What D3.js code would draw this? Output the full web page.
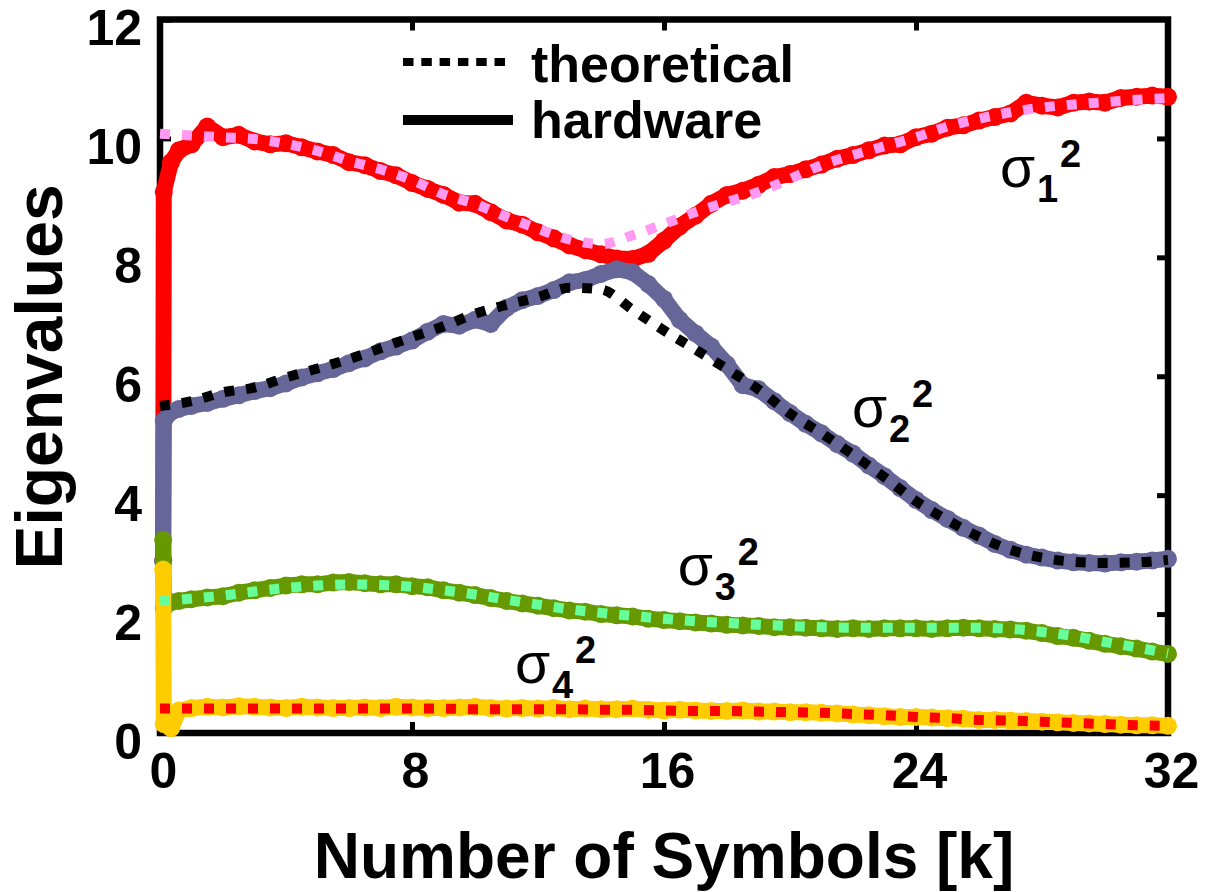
<!DOCTYPE html>
<html>
<head>
<meta charset="utf-8">
<script src="https://cdn.jsdelivr.net/npm/d3@7"></script>
<style>
body { margin: 0; background: #fff; }
svg text { font-family: "Liberation Sans", Arial, sans-serif; }
</style>
</head>
<body>
<svg id="chart" width="1205" height="892"></svg>
<script>

// theoretical curves, one value per 1k symbols
const kTheo = d3.range(0, 33, 1);
const theo1 = [10.08,10.05,10.02,9.99,9.91,9.79,9.62,9.48,9.3,9.06,8.9,8.68,8.48,8.3,8.22,8.37,8.56,8.76,8.93,9.1,9.32,9.55,9.72,9.87,10.02,10.2,10.33,10.44,10.52,10.57,10.61,10.65,10.68];
const theo2 = [5.5,5.58,5.73,5.81,5.98,6.13,6.29,6.47,6.66,6.84,7.05,7.2,7.33,7.49,7.46,7.12,6.77,6.45,6.12,5.78,5.37,5.04,4.68,4.3,3.9,3.58,3.3,3.08,2.95,2.88,2.86,2.87,2.91];
const theo3 = [2.22,2.26,2.31,2.38,2.44,2.48,2.5,2.49,2.46,2.4,2.33,2.24,2.16,2.08,2.02,1.97,1.92,1.88,1.85,1.82,1.8,1.78,1.77,1.77,1.77,1.77,1.77,1.75,1.7,1.63,1.53,1.44,1.34];
const theo4 = [0.41,0.41,0.41,0.41,0.41,0.41,0.41,0.41,0.41,0.41,0.4,0.4,0.4,0.4,0.39,0.39,0.38,0.37,0.37,0.36,0.35,0.34,0.32,0.3,0.27,0.25,0.22,0.21,0.19,0.17,0.15,0.13,0.12];

// hardware measurements: start-up transient, then every 0.5k symbols
const kHw = [0.1, 0.12, 0.35, 0.6, 1].concat(d3.range(1.5, 32.01, 0.5));
const hw1 = [2.9,9.1,9.6,9.8,9.9,
  10.2,10.02,10.06,9.95,9.9,9.92,9.85,9.78,9.72,9.6,
  9.55,9.45,9.38,9.25,9.15,9.05,8.92,8.9,8.76,8.62,
  8.55,8.42,8.32,8.2,8.12,8.05,7.98,7.97,8.06,8.28,
  8.52,8.7,8.9,9.05,9.12,9.22,9.35,9.4,9.48,9.56,
  9.66,9.72,9.8,9.88,9.9,10.02,10.08,10.18,10.22,10.3,
  10.36,10.42,10.6,10.55,10.52,10.6,10.62,10.6,10.68,10.7,
  10.72,10.7];
const hw2 = [2.9,5.25,5.4,5.45,5.5,
  5.55,5.62,5.68,5.75,5.8,5.88,5.98,6.05,6.12,6.22,
  6.3,6.42,6.5,6.6,6.75,6.88,6.85,6.95,6.88,7.15,
  7.28,7.35,7.45,7.58,7.62,7.72,7.8,7.75,7.55,7.3,
  6.95,6.72,6.5,6.2,5.85,5.78,5.58,5.38,5.2,5.04,
  4.86,4.7,4.5,4.32,4.12,3.92,3.75,3.6,3.45,3.32,
  3.18,3.08,3.0,2.95,2.9,2.87,2.86,2.85,2.87,2.88,
  2.9,2.93];
const hw3 = [3.25,2.1,2.2,2.22,2.25,
  2.28,2.3,2.36,2.4,2.44,2.48,2.5,2.5,2.53,2.54,
  2.52,2.5,2.5,2.47,2.45,2.4,2.36,2.32,2.27,2.22,
  2.18,2.14,2.1,2.06,2.04,2.0,1.98,1.96,1.92,1.9,
  1.88,1.86,1.84,1.82,1.81,1.8,1.78,1.78,1.77,1.76,
  1.75,1.76,1.75,1.76,1.76,1.76,1.75,1.76,1.77,1.76,
  1.75,1.74,1.72,1.68,1.63,1.6,1.55,1.5,1.46,1.42,
  1.37,1.33];
const hw4 = [2.75,0.15,0.08,0.38,0.42,
  0.44,0.43,0.45,0.44,0.43,0.42,0.44,0.43,0.42,0.42,
  0.43,0.42,0.44,0.43,0.42,0.42,0.43,0.44,0.42,0.41,
  0.42,0.41,0.42,0.4,0.41,0.4,0.4,0.41,0.39,0.38,
  0.39,0.38,0.37,0.37,0.38,0.36,0.36,0.35,0.35,0.34,
  0.33,0.31,0.3,0.28,0.27,0.27,0.26,0.25,0.24,0.22,
  0.22,0.21,0.2,0.19,0.18,0.17,0.16,0.15,0.14,0.13,
  0.13,0.12];

const xTicks = [0, 8, 16, 24, 32];
const yTicks = [0, 2, 4, 6, 8, 10, 12];
const sigmaIdx = ["1", "2", "3", "4"];
// where each sigma label sits, in data units (k, value)
const labelK = [26.67, 21.97, 16.44, 11.27];
const labelV = [9.18, 5.15, 2.49, 0.84];

const svg = d3.select("#chart");

const x = d3.scaleLinear().domain([0, 32]).range([160, 1168]);
const y = d3.scaleLinear().domain([0, 12]).range([733, 19.5]);

// axes, ticks pointing inward
const gx = svg.append("g")
    .attr("transform", "translate(0,733)")
    .call(d3.axisBottom(x).tickValues(xTicks).tickSize(-11).tickFormat(d3.format("d")));
gx.selectAll("text").attr("y", 55).attr("dy", 0)
    .attr("transform", "translate(3,0)");

const gy = svg.append("g")
    .attr("transform", "translate(160,0)")
    .call(d3.axisLeft(y).tickValues(yTicks).tickSize(-11));
gy.selectAll("text").attr("x", -18).attr("dy", "0.5em");

svg.append("g")
    .attr("transform", "translate(0,19.5)")
    .call(d3.axisTop(x).tickValues([8, 16, 24]).tickSize(-11).tickFormat(""));
svg.append("g")
    .attr("transform", "translate(1168,0)")
    .call(d3.axisRight(y).tickValues([2, 4, 6, 8, 10]).tickSize(-11).tickFormat(""));

svg.selectAll(".domain").remove();
svg.selectAll(".tick line").attr("stroke", "#000").attr("stroke-width", 5);
svg.selectAll(".tick text")
    .attr("font-size", 50)
    .attr("font-weight", "bold")
    .attr("fill", "#000")
    .style("font-family", "'Liberation Sans', Arial, sans-serif");

svg.append("rect")
    .attr("x", x(0)).attr("y", y(12))
    .attr("width", x(32) - x(0)).attr("height", y(0) - y(12))
    .attr("fill", "none").attr("stroke", "#000").attr("stroke-width", 6.5);

// axis titles
svg.append("text")
    .attr("x", 664).attr("y", 878)
    .attr("text-anchor", "middle")
    .attr("font-size", 64).attr("font-weight", "bold")
    .text("Number of Symbols [k]");

svg.append("text")
    .attr("transform", "translate(62,377) rotate(-90)")
    .attr("text-anchor", "middle")
    .attr("font-size", 66).attr("font-weight", "bold")
    .text("Eigenvalues");

// hardware curves
const hwSeries = [
    { v: hw1, color: "#ff0000" },
    { v: hw2, color: "#666699" },
    { v: hw3, color: "#669900" },
    { v: hw4, color: "#ffcc00" }
];
const theoSeries = [
    { v: theo1, color: "#ff99f2" },
    { v: theo2, color: "#000000" },
    { v: theo3, color: "#66ff99" },
    { v: theo4, color: "#ff0000" }
];

const hwLine = d3.line().x(d => x(d[0])).y(d => y(d[1]));
const theoLine = d3.line().x(d => x(d[0])).y(d => y(d[1])).curve(d3.curveMonotoneX);

hwSeries.forEach(s => {
    const pts = kHw.map((k, i) => [k, s.v[i]]);
    const g = svg.append("g");
    g.append("path")
        .attr("d", hwLine(pts))
        .attr("fill", "none")
        .attr("stroke", s.color)
        .attr("stroke-width", 16)
        .attr("stroke-linejoin", "round")
        .attr("stroke-linecap", "round");
    g.selectAll("circle")
        .data(pts)
        .enter()
        .append("circle")
        .attr("cx", d => x(d[0]))
        .attr("cy", d => y(d[1]))
        .attr("r", 9)
        .attr("fill", s.color);
});

theoSeries.forEach(s => {
    const pts = kTheo.map((k, i) => [k, s.v[i]]);
    svg.append("path")
        .attr("d", theoLine(pts))
        .attr("fill", "none")
        .attr("stroke", s.color)
        .attr("stroke-width", 10)
        .attr("stroke-dasharray", "10,12");
});

// sigma labels
sigmaIdx.forEach((n, i) => {
    const lx = x(labelK[i]), ly = y(labelV[i]);
    svg.append("text").attr("x", lx).attr("y", ly)
        .attr("font-size", 57).text("σ");
    svg.append("text").attr("x", lx + 37).attr("y", ly + 15)
        .attr("font-size", 38).attr("font-weight", "bold").text(n);
    svg.append("text").attr("x", lx + 60).attr("y", ly - 20)
        .attr("font-size", 38).attr("font-weight", "bold").text("2");
});

// legend
const legend = svg.append("g");
legend.append("line")
    .attr("x1", 403).attr("x2", 508).attr("y1", 62).attr("y2", 62)
    .attr("stroke", "#000").attr("stroke-width", 8)
    .attr("stroke-dasharray", "10.5,7.8");
legend.append("line")
    .attr("x1", 403).attr("x2", 513).attr("y1", 120).attr("y2", 120)
    .attr("stroke", "#000").attr("stroke-width", 10);
legend.append("text")
    .attr("x", 531).attr("y", 82)
    .attr("font-size", 52).attr("font-weight", "bold")
    .text("theoretical");
legend.append("text")
    .attr("x", 531).attr("y", 138)
    .attr("font-size", 52).attr("font-weight", "bold")
    .text("hardware");
</script>
</body>
</html>
